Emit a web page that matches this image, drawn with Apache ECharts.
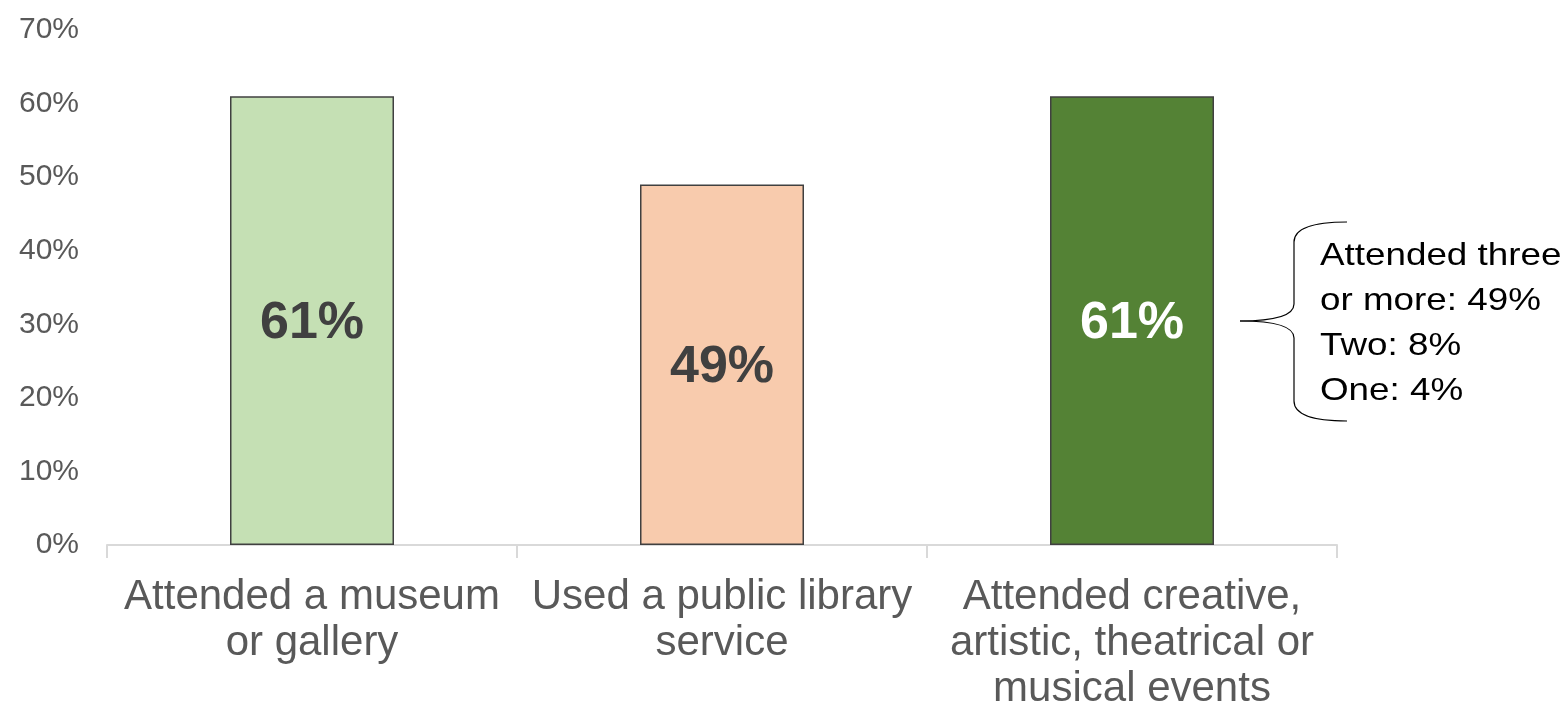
<!DOCTYPE html>
<html>
	<head>
		<meta charset="utf-8">
		<title></title>
		<script src="https://cdn.jsdelivr.net/npm/echarts@6/dist/echarts.min.js"></script>
	</head>
	<body style="margin: 0; overflow: hidden;">
		<div id="main" style="width: 1567px; height: 710px;"></div>
		<script type="text/javascript">
			// data
			var categories = ['Attended a museum\nor gallery', 'Used a public library\nservice', 'Attended creative,\nartistic, theatrical or\nmusical events'];
			var values = [61, 49, 61];
			var barColors = ['#c5e0b4', '#f8cbad', '#548235'];
			var labelColors = ['#404040', '#404040', '#ffffff'];
			var noteLines = ['Attended three', 'or more: 49%', 'Two: 8%', 'One: 4%'];

			var myChart = echarts.init(document.getElementById('main'));

			var seriesData = values.map(function (v, i) {
				return {
					value: v,
					itemStyle: { color: barColors[i] },
					label: { color: labelColors[i] }
				};
			});

			// curly brace next to the third bar
			var braceStyle = { fill: 'none', stroke: '#000000', lineWidth: 1.2 };
			function curve(x1, y1, cx, cy, x2, y2) {
				return { type: 'bezierCurve', shape: { x1: x1, y1: y1, cpx1: cx, cpy1: cy, x2: x2, y2: y2 }, style: braceStyle };
			}
			function seg(x1, y1, x2, y2) {
				return { type: 'line', shape: { x1: x1, y1: y1, x2: x2, y2: y2 }, style: braceStyle };
			}

			var font = 'Liberation Sans, Arial, sans-serif';

			var option = {
				animation: false,
				grid: {
					left: 107,
					right: 230,
					top: 30,
					bottom: 165,
					outerBoundsMode: 'none'
				},
				xAxis: {
					type: 'category',
					data: categories,
					axisLine: { lineStyle: { color: '#d9d9d9', width: 2 } },
					axisTick: { show: true, interval: 0, length: 13, lineStyle: { color: '#d9d9d9', width: 2 } },
					axisLabel: {
						interval: 0,
						color: '#595959',
						fontSize: 42,
						lineHeight: 46,
						margin: 29,
						fontFamily: font
					}
				},
				yAxis: {
					type: 'value',
					min: 0,
					max: 70,
					interval: 10,
					splitLine: { show: false },
					axisLine: { show: false },
					axisTick: { show: false },
					axisLabel: {
						formatter: '{value}%',
						color: '#595959',
						fontSize: 30,
						margin: 28,
						fontFamily: font
					}
				},
				series: [
					{
						type: 'bar',
						barWidth: '40%',
						data: seriesData,
						itemStyle: {
							borderColor: '#404040',
							borderWidth: 1.5
						},
						label: {
							show: true,
							position: 'inside',
							offset: [0, 3],
							formatter: '{c}%',
							fontSize: 52,
							fontWeight: 'bold',
							fontFamily: font
						}
					}
				],
				graphic: [
					curve(1347, 222, 1294, 222, 1294, 242),
					seg(1294, 242, 1294, 304),
					curve(1294, 304, 1294, 321, 1240, 321),
					curve(1240, 321, 1294, 321, 1294, 338),
					seg(1294, 338, 1294, 401),
					curve(1294, 401, 1294, 421, 1347, 421),
					{
						type: 'text',
						x: 1320,
						y: 234,
						scaleX: 1.15,
						style: {
							text: noteLines.join('\n'),
							fill: '#000000',
							fontSize: 32,
							lineHeight: 45,
							fontFamily: font
						}
					}
				]
			};
			myChart.setOption(option);
		</script>
	</body>
</html>
